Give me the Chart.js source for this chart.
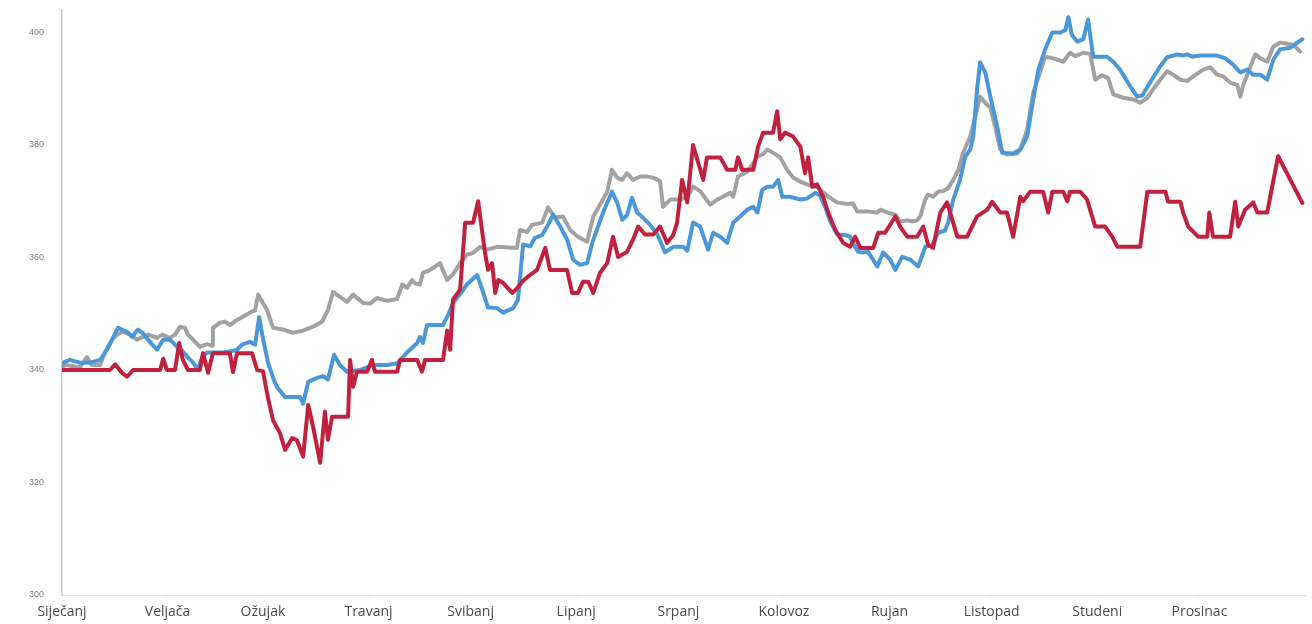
<!DOCTYPE html>
<html>
<head>
<meta charset="utf-8">
<script src="https://cdn.jsdelivr.net/npm/chart.js@4.4.1/dist/chart.umd.min.js"></script>
<style>
  html, body { margin: 0; padding: 0; background: #fff; }
  #wrap { width: 1312px; height: 624px; }
</style>
</head>
<body>
<div id="wrap"><canvas id="chartCijene" width="1312" height="624"></canvas></div>
<script>
// mjeseci (oznake na osi x) i dan u godini na kojem počinju
const months = ['Siječanj', 'Veljača', 'Ožujak', 'Travanj', 'Svibanj', 'Lipanj',
  'Srpanj', 'Kolovoz', 'Rujan', 'Listopad', 'Studeni', 'Prosinac'];
const monthStartDays = [0, 31, 59, 90, 120, 151, 181, 212, 243, 273, 304, 334];
const yTicks = [300, 320, 340, 360, 380, 400];

// crvena serija
const redDays = [0, 14.1, 15.6, 17.6, 19.1, 20.9, 28.8, 29.7, 30.8, 33.2, 34.4, 35.5, 37, 40.5, 41.4, 42.9, 44.3,
  49.3, 50.2, 51.4, 55.8, 57.3, 59, 60.5, 62, 64, 65.5, 67.6, 69, 70.8, 72.3, 73.7, 75.8, 77.2, 78.1, 79.3,
  84, 84.6, 85.5, 86.6, 89.6, 91, 91.9, 98.4, 99.3, 104.3, 105.7, 106.6, 111.9, 113.1, 114, 114.8, 116.9,
  118.4, 120.7, 122.2, 124.2, 125.1, 126.3, 127.2, 128.1, 129.5, 132.2, 133.6, 135.1, 136.6, 139.5, 141.9,
  143.3, 148.3, 149.8, 151.5, 153, 154.5, 156, 158, 160.1, 161.8, 163.3, 165.9, 167.7, 169.2, 171.2, 173.6,
  175.6, 177.7, 179.5, 180.6, 182.1, 183.6, 185.3, 188.3, 189.4, 193.3, 195.3, 197.7, 198.5, 199.7, 203,
  204.4, 205.9, 208.8, 210, 210.9, 212.3, 214.7, 216.8, 218.2, 219.1, 220.3, 221.7, 223.5, 225, 227, 229.4,
  231.4, 232.9, 234.4, 238.2, 239.7, 241.7, 244.7, 246.1, 248.2, 251.1, 252.9, 254.3, 255.8, 257.9, 259.9,
  262.9, 265.8, 268.7, 271.7, 273.1, 275.5, 277.5, 279.3, 281.4, 282.2, 284.3, 288.1, 289.6, 290.8, 294,
  295.2, 296, 299, 301, 303.4, 306.3, 308.4, 309.9, 316.6, 318.7, 324, 324.8, 328.4, 329.2, 330.7, 333.6,
  336.3, 336.9, 338, 343, 344.5, 345.4, 347.4, 349.8, 351, 353.9, 357.1, 364.2];
const redValues = [340, 340, 341, 339.5, 338.8, 340, 340, 342, 340, 340, 344.8, 341.8, 340, 340, 343, 339.5, 343,
  343, 339.6, 343, 343, 340, 339.8, 335, 331, 328.8, 325.8, 327.9, 327.5, 324.6, 333.8, 330, 323.5, 332.6, 327.6, 331.7,
  331.7, 341.8, 337, 339.7, 339.7, 341.8, 339.7, 339.7, 341.8, 341.8, 339.7, 341.8, 341.8, 347, 343.6, 352.5, 354.3,
  366.2, 366.2, 370, 360.9, 357.8, 359, 353.7, 356, 355.5, 353.7, 354.5, 355.7, 356.5, 357.8, 361.7,
  357.8, 357.8, 353.7, 353.7, 355.7, 355.7, 353.7, 357.3, 359, 363.7, 360.1, 361, 363.2, 365.5, 364.1, 364.1,
  365.5, 362.6, 364, 366.2, 373.8, 369.8, 380, 373.8, 377.8, 377.8, 375.6, 375.6, 377.8, 375.6, 375.6,
  379.7, 382.2, 382.2, 386, 381, 382.2, 381.5, 379.7, 375, 377.8, 372.6, 373, 370.8, 368, 365, 362.6,
  361.9, 363.7, 361.7, 361.7, 364.4, 364.4, 367.3, 365.5, 363.7, 363.7, 365.5, 362.3, 361.7, 368, 369.8,
  363.7, 363.7, 367.3, 368.5, 369.9, 368, 368, 363.7, 370.8, 370, 371.7, 371.7, 368, 371.7, 371.7,
  370, 371.7, 371.7, 370.3, 365.5, 365.5, 363.7, 361.9, 361.9, 371.7, 371.7, 369.9, 369.9, 368, 365.5, 363.7,
  363.7, 368, 363.7, 363.7, 369.9, 365.5, 368.5, 369.8, 368, 368, 378, 369.7];

// plava serija
const blueDays = [0, 0.9, 2.3, 5.3, 8.2, 11.2, 13.2, 14.7, 16.4, 19.1, 20.6, 22.3, 23.8, 25.8, 27.9, 29.7, 31.7,
  33.8, 35.2, 37, 38.5, 39.9, 41.1, 42.6, 47.3, 49.3, 51.4, 52.9, 55.2, 56.7, 57.9, 59, 60.5, 62, 63.1, 65.5,
  69.9, 70.8, 72.3, 74.9, 76.7, 78.1, 79.9, 81.6, 83.7, 87.5, 91.3, 95.5, 98.4, 101.3, 104.3, 105.1, 106,
  107.2, 111.9, 113.4, 114.8, 116.9, 118.9, 121.9, 123.4, 125.1, 127.8, 129.5, 132.5, 133.9, 135.4, 137.5,
  138.9, 141, 142.7, 144.2, 146.3, 148.3, 150.1, 152.1, 154.2, 155.7, 157.4, 158.9, 161.5, 163, 164.5,
  165.9, 167.4, 168.9, 170.6, 172.7, 174.8, 177.1, 179.5, 182.4, 183.6, 185.3, 187.4, 189.7, 191.2, 193.3,
  195.3, 197.1, 199.1, 201.2, 203, 204.2, 205.6, 207.1, 208.8, 210.3, 211.5, 213.8, 216.8, 218.8, 221.2,
  222.6, 224.1, 225.6, 227.6, 230, 231.4, 232.3, 233.8, 235, 236.7, 239.4, 241.1, 243.2, 244.7, 246.7,
  249.1, 251.4, 253.5, 255.5, 257.3, 259.3, 260.2, 261.7, 263.7, 265.2, 266.7, 267.6, 268.7, 269.6, 271.1,
  272.6, 274.6, 276.1, 279.3, 281.4, 283.4, 285.2, 286.7, 288.7, 290.8, 293.1, 294.6, 295.5, 296.6, 298.1,
  299.9, 301.3, 302.8, 306.9, 308.7, 310.7, 313.7, 315.7, 317.2, 319.5, 322.5, 324.5, 327.5, 329.2, 330.4,
  331.9, 334.2, 339.2, 341.6, 343.9, 346, 348, 349.8, 351.9, 353.9, 355.7, 357.7, 360.7, 362.7, 364.2];
const blueValues = [341, 341.5, 341.8, 341.3, 341.3, 341.8, 343.6, 345.4, 347.5, 346.8, 345.9, 347.2, 346.5, 345, 343.6, 345.4, 345.4,
  344.1, 343.5, 342.2, 341.3, 340, 342.2, 343.1, 343.1, 343.3, 343.6, 344.5, 345, 344.5, 349.4, 345.6, 341.3, 338.6, 337, 335.2,
  335.2, 334, 337.9, 338.6, 338.9, 338.3, 342.7, 340.9, 339.7, 340, 340.9, 340.9, 341.2, 343.1, 344.8, 345.9, 344.8,
  348, 348, 349.8, 351.9, 353.5, 355.2, 356.9, 354.3, 351.1, 351, 350.2, 351, 352.5, 362.3, 362,
  363.5, 364, 365.8, 367.6, 365.5, 363.2, 359.6, 358.7, 359, 362.6, 365.5, 368, 371.7, 369.8, 366.7,
  367.5, 370.6, 368, 367.1, 365.8, 364.1, 360.9, 361.9, 361.9, 361.2, 366.2, 365.5, 361.4, 364.4, 363.7,
  362.6, 366.2, 367.3, 368.5, 369, 368, 372, 372.6, 372.6, 373.8, 370.8, 370.8, 370.3, 370.5, 371.5,
  371, 369, 366.4, 364.1, 364, 363.7, 362.5, 361, 360.9, 361, 358.4, 360.9, 359.6, 357.8, 360.1,
  359.6, 358.4, 361.9, 362.2, 364.4, 364.8, 366.2, 370.3, 373.8, 377.9, 379.2, 381.5, 389.9, 394.7, 392.9,
  388.6, 383.3, 378.6, 378.5, 379.2, 381.5, 388.1, 393.4, 397, 400, 400, 400.4, 402.7, 399.5, 398.4,
  398.8, 402.3, 395.7, 395.7, 394.8, 393.4, 390.4, 388.6, 388.8, 391.1, 394, 395.6, 396.1, 395.9, 396.1,
  395.7, 395.9, 395.9, 395.4, 394.3, 392.9, 393.4, 392.5, 392.5, 391.6, 395.2, 397, 397.3, 398.2, 398.8];

// siva serija
const grayDays = [0, 0.9, 5.3, 7.3, 8.8, 11.2, 12.6, 14.7, 16.2, 17.9, 20, 22, 23.8, 25.3, 27.9, 29.4, 31.7, 33.2,
  34.7, 36.1, 37, 38.5, 40.5, 42.6, 44.1, 44.3, 46.4, 47.9, 49.3, 51.4, 53.2, 55.8, 56.7, 57.6, 59, 60.2, 62,
  64.9, 67.8, 70.8, 73.7, 76.4, 78.1, 79.6, 81.6, 83.7, 85.5, 88.4, 90.5, 92.5, 95.5, 98.4, 99.9, 101.3,
  102.8, 103.7, 105.1, 106, 107.5, 109.6, 111, 113.1, 114.8, 116.9, 118.9, 120.7, 122.8, 124.8, 127.8,
  133.6, 134.5, 136.6, 138, 141, 142.7, 144.8, 147.1, 149.2, 151.5, 154.2, 156, 158, 160.1, 161.5, 163,
  164.5, 165.9, 167.7, 169.8, 171.8, 173.6, 175.6, 176.5, 178.6, 181.5, 183.6, 185.3, 187.4, 190.3, 192.4,
  194.1, 196.2, 197.1, 198.5, 201.2, 204.2, 205.9, 207.1, 208.8, 210.9, 212.9, 214.7, 216.8, 218.8, 220.6,
  221.7, 225, 227.6, 230.6, 232.3, 233.5, 236.4, 239.4, 240.3, 242.3, 244.7, 246.1, 248.2, 249.6, 251.1,
  252, 253.5, 254.3, 255.8, 257.3, 258.7, 260.2, 261.7, 263.2, 264.6, 266.7, 268.7, 269.6, 271.1, 272.6,
  274, 275.5, 277.5, 280.5, 281.4, 283.4, 285.2, 287.2, 288.7, 291.1, 294, 296, 297.5, 299.9, 301.9,
  303.4, 305.4, 307.2, 308.7, 311.6, 314.6, 316.6, 318.7, 320.4, 322.5, 324.5, 326.3, 328.4, 330.4, 332.2,
  335.1, 337.2, 339.2, 341, 343, 345.1, 346, 346.9, 349, 350.4, 351.9, 353.9, 355.7, 357.7, 359.8,
  361.6, 363.6];
const grayValues = [340.5, 340.9, 340.5, 342.3, 340.9, 340.9, 343.1, 345.4, 346.3, 346.8, 346.3, 345.4, 345.9, 346.3, 345.7, 346.3, 345.7, 346.3,
  347.7, 347.5, 346.3, 345.4, 344.1, 344.6, 344.3, 347.5, 348.4, 348.6, 348, 348.9, 349.5, 350.4, 350.6, 353.4, 351.9, 350.7, 347.5,
  347.2, 346.6, 347, 347.7, 348.6, 350.7, 353.9, 353, 352.1, 353.4, 351.9, 351.8, 352.8, 352.3, 352.6, 355.2, 354.6,
  356, 355.4, 355.2, 357.3, 357.6, 358.4, 359, 356, 357, 359, 360.5, 360.8, 361.9, 361.4, 361.9,
  361.7, 364.9, 364.5, 365.8, 366.2, 368.9, 367.1, 367.3, 364.9, 363.7, 362.8, 367.3, 369.4, 371.7, 375.6, 374.2,
  373.8, 375, 373.8, 374.4, 374.4, 374.2, 373.6, 369, 370.3, 370.3, 370.7, 372.6, 371.8, 369.4, 370.3,
  370.8, 371.5, 370.8, 374.4, 375.2, 377.9, 378.4, 379.2, 378.6, 377.8, 375.6, 374.2, 373.5, 373, 372.6,
  372.6, 370.8, 369.8, 369.5, 369.6, 368.2, 368.2, 368, 368.5, 368, 367.6, 366.4, 366.6, 366.4, 366.6,
  367.3, 370.3, 371.2, 370.8, 371.7, 371.8, 372.3, 373.8, 375.6, 378.6, 381.5, 386.3, 388.6, 387.5, 386.6,
  383.3, 379.2, 378.3, 378.5, 379.2, 382.7, 389.3, 392.9, 395.7, 395.4, 394.8, 396.4, 395.8, 396.4, 396.2,
  391.6, 392.4, 391.9, 389, 388.4, 388.1, 387.5, 388.4, 389.9, 391.6, 393.1, 392.5, 391.6, 391.4, 392.2,
  393.4, 393.8, 392.5, 392.2, 391.1, 390.7, 388.6, 390.7, 394, 396.1, 395.4, 394.8, 397.5, 398.2, 398,
  397.8, 396.6];

function toPoints(days, values) {
  return days.map((d, i) => ({ x: d, y: values[i] }));
}

const ctx = document.getElementById('chartCijene');

new Chart(ctx, {
  type: 'line',
  data: {
    datasets: [
      { label: 'crvena', data: toPoints(redDays, redValues), borderColor: '#c0213f' },
      { label: 'plava', data: toPoints(blueDays, blueValues), borderColor: '#4b98d9' },
      { label: 'siva', data: toPoints(grayDays, grayValues), borderColor: '#a2a2a2' }
    ]
  },
  options: {
    responsive: false,
    animation: false,
    layout: { autoPadding: false, padding: { top: 10, right: 7, left: 0, bottom: 0 } },
    elements: {
      line: { borderWidth: 4, tension: 0, borderJoinStyle: 'round', borderCapStyle: 'round' },
      point: { radius: 0, hoverRadius: 0 }
    },
    plugins: {
      legend: { display: false },
      tooltip: { enabled: false }
    },
    scales: {
      x: {
        type: 'linear',
        min: 0,
        max: 365,
        afterFit: (scale) => {
          scale.height = 29;
          scale.paddingLeft = 0;
          scale.paddingRight = 0;
        },
        afterBuildTicks: (scale) => {
          scale.ticks = monthStartDays.map(v => ({ value: v }));
        },
        border: { display: true, color: '#e2e2e2', width: 1 },
        grid: { display: true, drawOnChartArea: false, drawTicks: true, tickLength: 3, color: '#ececec' },
        ticks: {
          autoSkip: false,
          maxRotation: 0,
          padding: 6,
          color: '#4a4a4a',
          font: { family: 'Open Sans', size: 14 },
          callback: (value) => months[monthStartDays.indexOf(value)]
        }
      },
      y: {
        min: 300,
        max: 404,
        afterFit: (scale) => {
          scale.width = 62;
          scale.paddingTop = 0;
          scale.paddingBottom = 0;
        },
        afterBuildTicks: (scale) => {
          scale.ticks = yTicks.map(v => ({ value: v }));
        },
        border: { display: true, color: '#c8c8c8', width: 1.5 },
        grid: { display: false },
        ticks: {
          padding: 10,
          color: '#808080',
          font: { family: 'Liberation Sans', size: 9 }
        }
      }
    }
  }
});
</script>
</body>
</html>
